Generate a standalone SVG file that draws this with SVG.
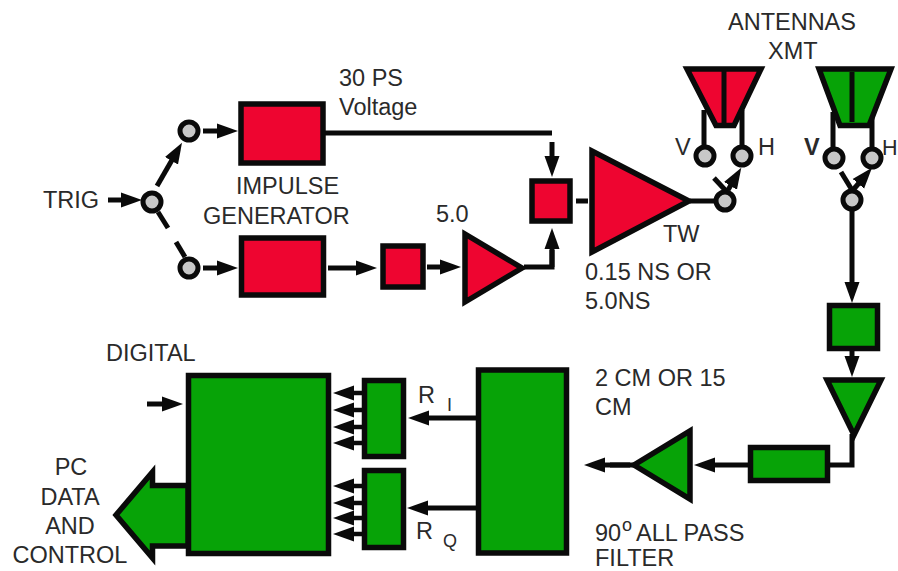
<svg xmlns="http://www.w3.org/2000/svg" width="898" height="571" viewBox="0 0 898 571">
<style>
text{font-family:"Liberation Sans",Arial,sans-serif;font-size:23.5px;fill:#2a2a2a}
.sm{font-size:18px}
.mid{text-anchor:middle}
.r{fill:#ee0530;stroke:#0a0a0a;stroke-width:5.5;stroke-linejoin:miter;stroke-miterlimit:10}
.g{fill:#07a307;stroke:#0a0a0a;stroke-width:5.5;stroke-linejoin:miter;stroke-miterlimit:10}
.c{fill:#c8c8c8;stroke:#0a0a0a;stroke-width:5}
.l{fill:none;stroke:#0a0a0a;stroke-width:5}
.a{fill:none;stroke:#0a0a0a;stroke-width:5;marker-end:url(#h)}
.t{fill:none;stroke:#0a0a0a;stroke-width:4.5;marker-end:url(#h)}
</style>
<defs>
<marker id="h" markerUnits="userSpaceOnUse" markerWidth="23" markerHeight="16" refX="1" refY="8" orient="auto"><path d="M0 0.500L21 8L0 15.500Z" fill="#0a0a0a"/></marker>
</defs>
<g id="connectors">
<path class="a" d="M108 200H122"/>
<path class="a" d="M157 186L172 160"/>
<path class="l" d="M158 212L168 228"/>
<path class="l" d="M176 242L185 257"/>
<path class="a" d="M203 131H218"/>
<path class="a" d="M203 268H218"/>
<path class="a" d="M328 268H357"/>
<path class="a" d="M427 267H441"/>
<path class="l" d="M324 133H552"/>
<path class="a" d="M552 142V157"/>
<path class="l" d="M524 267H552V250"/>
<path class="a" d="M552 267V248"/>
<path class="l" d="M576 201H588"/>
<path class="l" d="M690 201H716"/>
<path class="a" d="M728 190L731 185"/>
<path class="l" d="M714 178L727 192"/>
<path class="l" d="M841 172L852 190"/>
<path class="a" d="M853 190L859 183"/>
<path class="a" d="M852 205V283"/>
<path class="a" d="M852 350V357"/>
<path class="l" d="M852 434V465H828"/>
<path class="a" d="M748 465H714"/>
<path class="l" d="M636 465H610"/>
<path class="a" d="M630 465H604"/>
<path class="a" d="M476 418H428"/>
<path class="a" d="M476 508H427"/>
<path class="a" d="M147 404H163"/>
<path class="t" d="M362 393H353"/>
<path class="t" d="M362 410H353"/>
<path class="t" d="M362 427H353"/>
<path class="t" d="M362 443H353"/>
<path class="t" d="M362 486H353"/>
<path class="t" d="M362 503H353"/>
<path class="t" d="M362 518H353"/>
<path class="t" d="M362 534H353"/>
<path class="l" d="M704 110V150M742 110V150M833 112V152M872 112V152"/>
</g>
<g id="sw-in"><circle class="c" cx="152" cy="202" r="9"/></g>
<g id="sw-up"><circle class="c" cx="189" cy="131" r="9"/></g>
<g id="sw-down"><circle class="c" cx="189" cy="268" r="9"/></g>
<g id="impulse-top"><rect class="r" x="241" y="104" width="82" height="59"/></g>
<g id="impulse-bottom"><rect class="r" x="241.500" y="238" width="82" height="57"/></g>
<g id="small-box"><rect class="r" x="383" y="246" width="40" height="41"/></g>
<g id="amp-5"><path class="r" d="M465 234V302L522 268Z"/></g>
<g id="combiner"><rect class="r" x="532" y="181" width="38" height="40"/></g>
<g id="amp-tw"><path class="r" d="M592 151V252L689 201Z"/></g>
<g id="ant-red"><path class="r" d="M687 69H761L734 125.500H716Z"/><path class="l" d="M724 69V125"/></g>
<g id="ant-green"><path class="g" d="M819 69H891L869 125.500H840Z"/><path class="l" d="M852 72V122"/></g>
<g id="sw-v1"><circle class="c" cx="705" cy="156" r="9"/></g>
<g id="sw-h1"><circle class="c" cx="742" cy="156" r="9"/></g>
<g id="sw-t"><circle class="c" cx="725" cy="201" r="9"/></g>
<g id="sw-v2"><circle class="c" cx="834" cy="158" r="9"/></g>
<g id="sw-h2"><circle class="c" cx="872" cy="158" r="9"/></g>
<g id="sw-r"><circle class="c" cx="852" cy="200" r="9"/></g>
<g id="rx-box"><rect class="g" x="829.500" y="305.500" width="48" height="43"/></g>
<g id="rx-amp"><path class="g" d="M827 380H881L854 435Z"/></g>
<g id="rx-filter"><rect class="g" x="750.500" y="447.500" width="77" height="33"/></g>
<g id="rx-amp2"><path class="g" d="M690 431V499L634 465Z"/></g>
<g id="allpass"><rect class="g" x="478.500" y="370" width="88" height="183"/></g>
<g id="mixer-i"><rect class="g" x="364.500" y="380.500" width="39" height="76"/></g>
<g id="mixer-q"><rect class="g" x="364.500" y="470.500" width="39" height="77"/></g>
<g id="digital"><rect class="g" x="188.500" y="375.500" width="140" height="178"/></g>
<g id="output"><path class="g" d="M188 485.500H152.500V472L116 515L152.500 558V546H188Z"/></g>
<g id="labels">
<text x="339" y="86">30 PS</text>
<text x="339" y="115">Voltage</text>
<text x="236" y="194">IMPULSE</text>
<text x="203" y="224">GENERATOR</text>
<text x="43" y="208">TRIG</text>
<text x="436" y="222">5.0</text>
<text x="663" y="242">TW</text>
<text x="585" y="280">0.15 NS OR</text>
<text x="585" y="309">5.0NS</text>
<text x="728" y="30">ANTENNAS</text>
<text x="768" y="59">XMT</text>
<text x="675" y="155">V</text>
<text x="758" y="155">H</text>
<text x="804" y="155" style="font-weight:bold">V</text>
<text x="882" y="155" style="font-size:21.500px">H</text>
<text x="106" y="361">DIGITAL</text>
<text x="595" y="386">2 CM OR 15</text>
<text x="595" y="415">CM</text>
<text x="418" y="403">R</text>
<text x="447" y="411" class="sm">I</text>
<text x="416" y="539">R</text>
<text x="443" y="547" class="sm">Q</text>
<text x="595" y="541">90</text>
<text x="622" y="531" class="sm">o</text>
<text x="636" y="541">ALL PASS</text>
<text x="595" y="566">FILTER</text>
<text x="71" y="475" class="mid">PC</text>
<text x="70" y="505" class="mid">DATA</text>
<text x="70" y="534" class="mid">AND</text>
<text x="70" y="563" class="mid">CONTROL</text>
</g>
</svg>
